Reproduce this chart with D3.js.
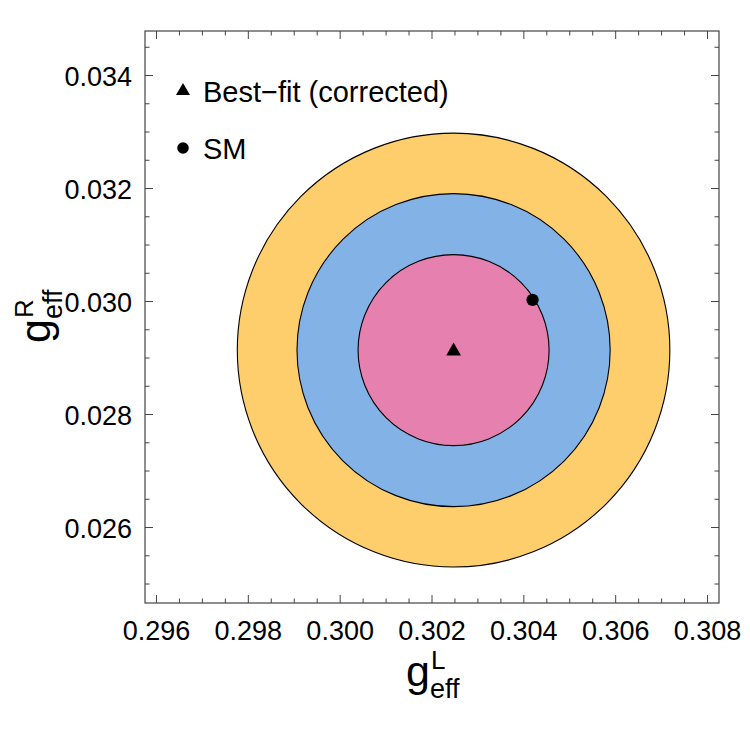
<!DOCTYPE html>
<html>
<head>
<meta charset="utf-8">
<script src="https://cdn.jsdelivr.net/npm/d3@7"></script>
<style>
  body { margin: 0; background: #fff; }
  svg { display: block; font-family: "Liberation Sans", Arial, sans-serif; }
</style>
</head>
<body>
<div id="chart"></div>
<script>
// confidence regions (center + half-widths in data units), outer first
const center = [0.30247, 0.02914];
const regionNames = ['3sigma', '2sigma', '1sigma'];
const regionRx = [0.00471, 0.00341, 0.00208];
const regionRy = [0.00384, 0.00277, 0.00169];
const regionColors = ['#fecd6c', '#83b2e6', '#e680ae'];

const smPoint = [0.30419, 0.03003];
const bestFit = [0.30247, 0.02914];

const xTicks = [0.296, 0.298, 0.300, 0.302, 0.304, 0.306, 0.308];
const yTicks = [0.026, 0.028, 0.030, 0.032, 0.034];
const legendItems = ['Best\u2212fit (corrected)', 'SM'];

const width = 750, height = 740;
const margin = { top: 31, right: 31, bottom: 137, left: 145 };
const w = width - margin.left - margin.right;
const h = height - margin.top - margin.bottom;

const svg = d3.select('#chart').append('svg')
  .attr('width', width)
  .attr('height', height);

const g = svg.append('g')
  .attr('transform', `translate(${margin.left},${margin.top})`);

const x = d3.scaleLinear().domain([0.29575, 0.30825]).range([0, w]);
const y = d3.scaleLinear().domain([0.024664, 0.034788]).range([h, 0]);

// regions
g.selectAll('ellipse.region')
  .data(regionNames)
  .enter()
  .append('ellipse')
  .attr('class', 'region')
  .attr('cx', x(center[0]))
  .attr('cy', y(center[1]))
  .attr('rx', (d, i) => x(center[0] + regionRx[i]) - x(center[0]))
  .attr('ry', (d, i) => y(center[1]) - y(center[1] + regionRy[i]))
  .attr('fill', (d, i) => regionColors[i])
  .attr('stroke', '#000')
  .attr('stroke-width', 1.1);

// points
const tri = d3.symbol().type(d3.symbolTriangle).size(95);
const dot = d3.symbol().type(d3.symbolCircle).size(120);

g.append('path')
  .attr('d', tri)
  .attr('transform', `translate(${x(bestFit[0])},${y(bestFit[1]) + 1})`)
  .attr('fill', '#000');

g.append('path')
  .attr('d', dot)
  .attr('transform', `translate(${x(smPoint[0])},${y(smPoint[1])})`)
  .attr('fill', '#000');

// ticks (inward, all four sides)
const xMinor = d3.range(0.296, 0.3081, 0.0005).filter(v => v >= x.domain()[0] && v <= x.domain()[1]);
const yMinor = d3.range(0.0245, 0.0349, 0.0005).filter(v => v >= y.domain()[0] && v <= y.domain()[1]);
const isMajor = (v, list) => list.some(t => Math.abs(t - v) < 1e-7);

const tickColor = '#444';
xMinor.forEach(v => {
  const len = isMajor(v, xTicks) ? 8 : 4.5;
  g.append('line').attr('x1', x(v)).attr('x2', x(v)).attr('y1', h).attr('y2', h - len).attr('stroke', tickColor);
  g.append('line').attr('x1', x(v)).attr('x2', x(v)).attr('y1', 0).attr('y2', len).attr('stroke', tickColor);
});
yMinor.forEach(v => {
  const len = isMajor(v, yTicks) ? 8 : 4.5;
  g.append('line').attr('y1', y(v)).attr('y2', y(v)).attr('x1', 0).attr('x2', len).attr('stroke', tickColor);
  g.append('line').attr('y1', y(v)).attr('y2', y(v)).attr('x1', w).attr('x2', w - len).attr('stroke', tickColor);
});

// frame
g.append('rect')
  .attr('width', w)
  .attr('height', h)
  .attr('fill', 'none')
  .attr('stroke', tickColor)
  .attr('stroke-width', 1.2);

// tick labels
g.selectAll('.xlab')
  .data(xTicks)
  .enter()
  .append('text')
  .attr('x', d => x(d))
  .attr('y', h + 37)
  .attr('text-anchor', 'middle')
  .style('font-size', '27px')
  .text(d3.format('.3f'));

g.selectAll('.ylab')
  .data(yTicks)
  .enter()
  .append('text')
  .attr('x', -13)
  .attr('y', d => y(d) + 10)
  .attr('text-anchor', 'end')
  .style('font-size', '27px')
  .text(d3.format('.3f'));

// axis titles: g with super/subscript
function axisTitle(parent, sup) {
  parent.append('text').attr('x', 0).attr('y', 0).style('font-size', '43px').text('g');
  parent.append('text').attr('x', 25).attr('y', -17).style('font-size', '26px').text(sup);
  parent.append('text').attr('x', 24).attr('y', 12).style('font-size', '27px').text('eff');
}
axisTitle(svg.append('g').attr('transform', 'translate(406,686)'), 'L');
axisTitle(svg.append('g').attr('transform', 'translate(50,343) rotate(-90)'), 'R');

// legend
const legend = g.append('g').attr('transform', 'translate(38,60)');
legendItems.forEach((label, i) => {
  const row = legend.append('g').attr('transform', `translate(0,${i * 57})`);
  row.append('path')
    .attr('d', i === 0 ? d3.symbol().type(d3.symbolTriangle).size(85) : d3.symbol().type(d3.symbolCircle).size(105))
    .attr('fill', '#000');
  row.append('text')
    .attr('x', 20)
    .attr('y', 10.5)
    .style('font-size', '29px')
    .text(label);
});
</script>
</body>
</html>
